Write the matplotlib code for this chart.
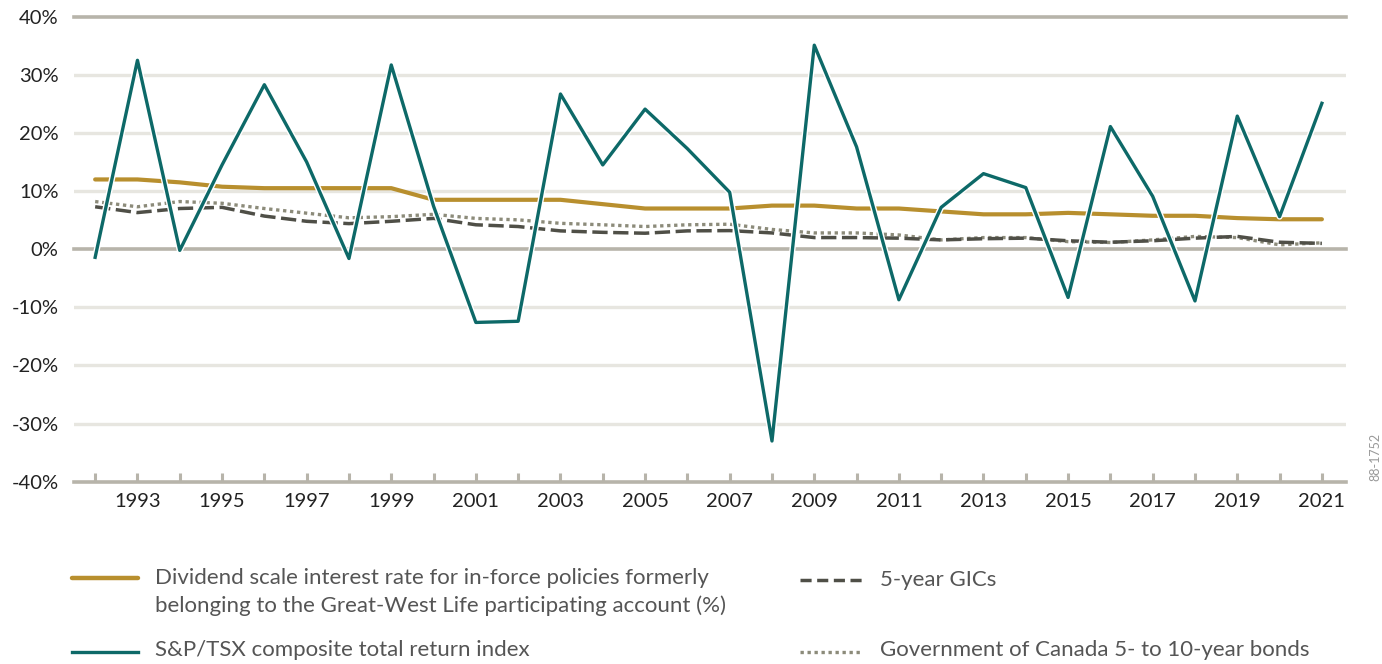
import matplotlib
matplotlib.use("Agg")
import matplotlib.pyplot as plt
import matplotlib.patheffects as pe
from matplotlib.lines import Line2D

# donnees (%)
years = list(range(1992, 2022))
tsx = [-1.4, 32.5, -0.2, 14.5, 28.3, 15.0, -1.6, 31.7, 7.4, -12.6, -12.4, 26.7, 14.5, 24.1, 17.3,
       9.8, -33.0, 35.1, 17.6, -8.7, 7.2, 13.0, 10.6, -8.3, 21.1, 9.1, -8.9, 22.9, 5.6, 25.1]
dividend = [12.0, 12.0, 11.5, 10.75, 10.5, 10.5, 10.5, 10.5, 8.5, 8.5, 8.5, 8.5, 7.75, 7.0, 7.0,
            7.0, 7.5, 7.5, 7.0, 7.0, 6.5, 6.0, 6.0, 6.25, 6.0, 5.75, 5.75, 5.35, 5.15, 5.15]
gic = [7.3, 6.3, 7.0, 7.2, 5.7, 4.8, 4.4, 4.8, 5.3, 4.2, 3.9, 3.15, 2.9, 2.75, 3.15,
       3.2, 2.8, 2.0, 2.0, 1.9, 1.6, 1.8, 1.9, 1.45, 1.2, 1.45, 1.9, 2.2, 1.2, 1.0]
bonds = [8.2, 7.3, 8.2, 7.9, 7.0, 6.2, 5.4, 5.6, 6.0, 5.3, 5.05, 4.45, 4.2, 3.9, 4.2,
         4.3, 3.4, 2.8, 2.8, 2.45, 1.6, 2.0, 2.0, 1.3, 1.15, 1.6, 2.2, 2.0, 0.75, 1.1]
yticks = [-40, -30, -20, -10, 0, 10, 20, 30, 40]

labels = ["Dividend scale interest rate for in-force policies formerly\nbelonging to the Great-West Life participating account (%)",
          "S&P/TSX composite total return index",
          "5-year GICs",
          "Government of Canada 5- to 10-year bonds"]

GOLD = "#b88f2e"
TEAL = "#0d6968"
DARK = "#4f4f47"
DOT = "#8c8b7a"
GRID = "#e7e6e0"
AXC = "#b7b4aa"

plt.rcParams['font.family'] = ['Lato', 'DejaVu Sans']

fig = plt.figure(figsize=(13.82, 6.64), dpi=100)
ax = fig.add_axes([74/1382, 1-481.7/664, (1346-74)/1382, (481.7-16.7)/664])

# lignes horizontales
for v in yticks:
    if v in (-40, 0, 40):
        ax.axhline(v, color=AXC, lw=2.6, zorder=1, clip_on=False)
    else:
        ax.axhline(v, color=GRID, lw=2.4, zorder=0)

ax.plot(years, bonds, color=DOT, lw=2.4, dashes=(1, 1.1), dash_capstyle='butt', zorder=3)
ax.plot(years, gic, color=DARK, lw=2.5, dashes=(4.4, 1.6), zorder=4)
ax.plot(years, dividend, color=GOLD, lw=3.0, zorder=5, solid_capstyle='round')
ax.plot(years, tsx, color=TEAL, lw=2.4, zorder=6,
        path_effects=[pe.Stroke(linewidth=4.4, foreground='white'), pe.Normal()])

ax.set_xlim(1991.5, 2021.57)
ax.set_ylim(-40, 40)
ax.set_yticks(yticks)
ax.set_yticklabels([f"{v}%" for v in yticks])
ax.set_xticks(years)
ax.set_xticklabels([str(y) if y % 2 == 1 else "" for y in years])

for s in ax.spines.values():
    s.set_visible(False)
ax.tick_params(axis='y', length=0, pad=11, labelsize=14.5, labelcolor="#222222")
ax.tick_params(axis='x', direction='in', length=6.5, width=2.2, color=AXC, pad=8,
               labelsize=14.5, labelcolor="#222222")

# legende
tr = fig.transFigure
def px(x, y):
    return x/1382, 1-y/664

fig.add_artist(Line2D([px(72, 0)[0], px(138, 0)[0]], [px(0, 578)[1]]*2, transform=tr,
                      color=GOLD, lw=3.2, solid_capstyle='round'))
fig.add_artist(Line2D([px(72, 0)[0], px(138, 0)[0]], [px(0, 652)[1]]*2, transform=tr,
                      color=TEAL, lw=2.4))
fig.add_artist(Line2D([px(800, 0)[0], px(862, 0)[0]], [px(0, 580)[1]]*2, transform=tr,
                      color=DARK, lw=2.5, dashes=(3.2, 1.6)))
fig.add_artist(Line2D([px(800, 0)[0], px(862, 0)[0]], [px(0, 652)[1]]*2, transform=tr,
                      color=DOT, lw=2.4, dashes=(1, 1.1), dash_capstyle='butt'))

tkw = dict(fontsize=16, color="#555555", va='center', ha='left', linespacing=1.45)
fig.text(*px(155, 592), labels[0], **tkw)
fig.text(*px(155, 650), labels[1], **tkw)
fig.text(*px(880, 580), labels[2], **tkw)
fig.text(*px(880, 650), labels[3], **tkw)

fig.text(*px(1375, 457), "88-1752", rotation=90, fontsize=9, color="#999999",
         ha='center', va='center')

fig.savefig("out.png", dpi=100)
